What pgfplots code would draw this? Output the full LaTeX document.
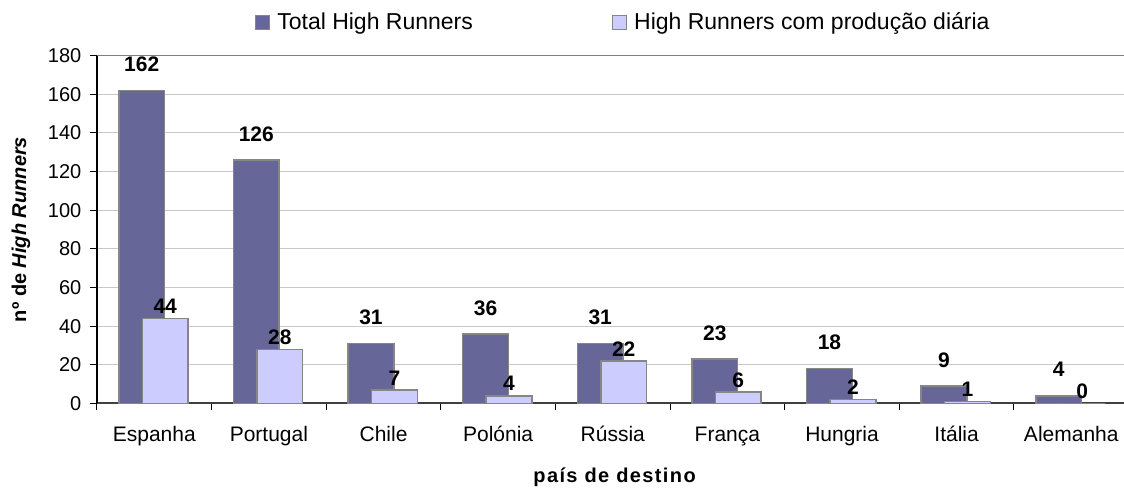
\documentclass[border=0pt]{standalone}
\usepackage{fontspec}
\setmainfont{Liberation Sans}
\newfontfamily\spaced[LetterSpace=7]{Liberation Sans}
\usepackage{pgfplots}
\pgfplotsset{compat=1.18}
\definecolor{totalc}{HTML}{666699}
\definecolor{diariac}{HTML}{CCCCFF}
\definecolor{barborder}{HTML}{868686}
\definecolor{gridc}{HTML}{C8C8C8}

\begin{document}
\begin{tikzpicture}
\begin{axis}[
    scale only axis,
    width=1027pt, height=348pt,
    xmin=-0.5, xmax=8.46,
    ymin=0, ymax=180,
    /pgf/number format/assume math mode=true,
    axis x line*=bottom,
    axis y line*=left,
    x axis line style={draw=black!75, line width=2pt},
    y axis line style={draw=black, line width=1.2pt},
    tick align=outside,
    major tick length=6.5pt,
    tick style={draw=black, line width=1pt},
    xtick={-0.5,0.5,...,7.5},
    xticklabels={Espanha,Portugal,Chile,Polónia,Rússia,França,Hungria,Itália,Alemanha},
    xticklabel style={anchor=base, xshift=57.3pt, yshift=-32pt,
        font=\fontsize{21}{24}\selectfont},
    ytick={0,20,...,160},
    extra y ticks={180},
    extra y tick style={grid style={draw=black!50, line width=1.5pt}},
    yticklabel style={font=\fontsize{20}{24}\selectfont, anchor=east, inner sep=0pt, xshift=-9pt},
    ymajorgrids,
    grid style={draw=gridc, line width=1pt},
    xlabel={\spaced\bfseries país de destino},
    xlabel style={at={(axis description cs:0.504,0)}, anchor=center, yshift=-74pt,
        font=\fontsize{20}{24}\selectfont},
    ylabel={\bfseries nº de \textit{High Runners}},
    ylabel style={at={(axis description cs:0,0.5)}, anchor=center, yshift=76pt,
        font=\fontsize{20}{24}\selectfont},
    legend columns=2,
    legend style={draw=none, fill=none, at={(axis description cs:0.512,1.096)},
        anchor=center, font=\fontsize{23}{26}\selectfont,
        /tikz/every even column/.append style={column sep=138pt},
        nodes={inner sep=1pt}},
    legend image code/.code={\draw[#1, line width=1pt] (0pt,-7pt) rectangle (14pt,7pt);
        \path (20pt,0pt);},
]
\addplot[ybar, bar width=0.4, bar shift=-0.11, fill=totalc, draw=barborder, line width=1.5pt,
    nodes near coords,
    nodes near coords style={anchor=center, xshift=-12.6pt, yshift=26pt, text=black,
        font=\fontsize{21}{24}\selectfont\bfseries}]
    coordinates {(0,162) (1,126) (2,31) (3,36) (4,31) (5,23) (6,18) (7,9) (8,4)};
\addlegendentry{Total High Runners}
\addplot[ybar, bar width=0.4, bar shift=0.095, fill=diariac, draw=barborder, line width=1.5pt,
    nodes near coords,
    nodes near coords style={anchor=center, xshift=10.9pt, yshift=12pt, text=black,
        font=\fontsize{21}{24}\selectfont\bfseries}]
    coordinates {(0,44) (1,28) (2,7) (3,4) (4,22) (5,6) (6,2) (7,1) (8,0)};
\addlegendentry{High Runners com produção diária}
\end{axis}
\pgfresetboundingbox
\path ([shift={(-97pt,-85pt)}]current axis.south west) rectangle ([shift={(0pt,55.5pt)}]current axis.north east);
\end{tikzpicture}
\end{document}
